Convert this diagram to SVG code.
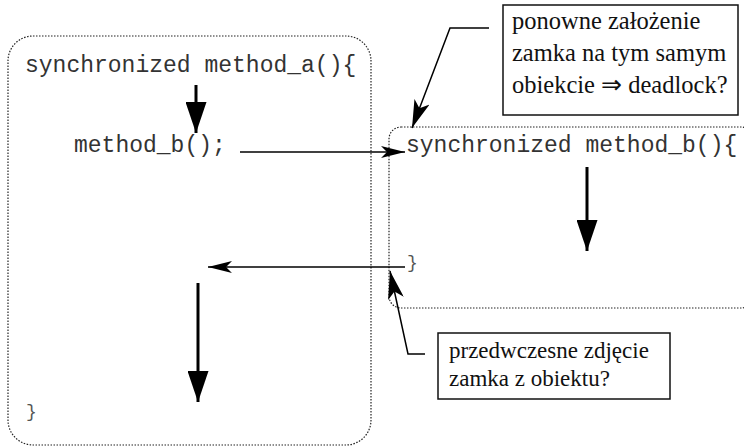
<svg xmlns="http://www.w3.org/2000/svg" width="744" height="448" viewBox="0 0 744 448">
<style>
.box{fill:none;stroke:#222;stroke-width:1.2;stroke-dasharray:1.5 1.5}
.code{font-family:"Liberation Mono","Courier New",monospace;font-size:23px;fill:#333}
.brace{font-family:"Liberation Mono","Courier New",monospace;font-size:18px;fill:#555}
.note{font-family:"Liberation Serif","Times New Roman",serif;fill:#111}
.callout{fill:#fff;stroke:#111;stroke-width:1.5}
.thick{stroke:#000;stroke-width:3;fill:none}
.thin{stroke:#000;stroke-width:1.5;fill:none}
</style>
<defs>
<marker id="big" markerUnits="userSpaceOnUse" markerWidth="31" markerHeight="21" refX="31" refY="10.5" orient="auto"><path d="M0,0 L31,10.5 L0,21 z" fill="#000"/></marker>
<marker id="barb" markerUnits="userSpaceOnUse" markerWidth="24" markerHeight="12" refX="24" refY="6" orient="auto"><path d="M0,0 L24,6 L0,12 L6,6 z" fill="#000"/></marker>
<marker id="lead" markerUnits="userSpaceOnUse" markerWidth="28" markerHeight="16" refX="28" refY="8" orient="auto"><path d="M0,0 L28,8 L0,16 L7,8 z" fill="#000"/></marker>
</defs>
<g id="method_a">
<rect class="box" x="8" y="36" width="363" height="409" rx="25" ry="25"/>
<text class="code" x="25" y="72">synchronized method_a(){</text>
<text class="code" x="74" y="152">method_b();</text>
<text class="brace" x="26" y="417">}</text>
</g>
<g id="method_b">
<rect class="box" x="389" y="127" width="364" height="181" rx="12" ry="12"/>
<text class="code" x="406" y="152">synchronized method_b(){</text>
<text class="brace" x="407" y="268">}</text>
</g>
<g id="note_deadlock">
<rect class="callout" x="503" y="5" width="235" height="110"/>
<text class="note" font-size="24.5"><tspan x="512" y="29">ponowne założenie</tspan><tspan x="512" y="61">zamka na tym samym</tspan><tspan x="512" y="93">obiekcie ⇒ deadlock?</tspan></text>
</g>
<g id="note_premature">
<rect class="callout" x="438" y="333" width="232" height="66"/>
<text class="note" font-size="23"><tspan x="449" y="358">przedwczesne zdjęcie</tspan><tspan x="449" y="386">zamka z obiektu?</tspan></text>
</g>
<g id="connectors">
<line class="thick" x1="196" y1="85" x2="196" y2="133" marker-end="url(#big)"/>
<line class="thick" x1="198" y1="283" x2="198" y2="402" marker-end="url(#big)"/>
<line class="thick" x1="587" y1="167" x2="587" y2="251" marker-end="url(#big)"/>
<line class="thin" x1="240" y1="152" x2="405" y2="152" marker-end="url(#barb)"/>
<line class="thin" x1="405" y1="267" x2="208" y2="267" marker-end="url(#barb)"/>
<path class="thin" d="M489,28 L450,28 L412,128" marker-end="url(#lead)"/>
<path class="thin" d="M425,354 L408,354 L390,271" marker-end="url(#lead)"/>
</g>
</svg>
